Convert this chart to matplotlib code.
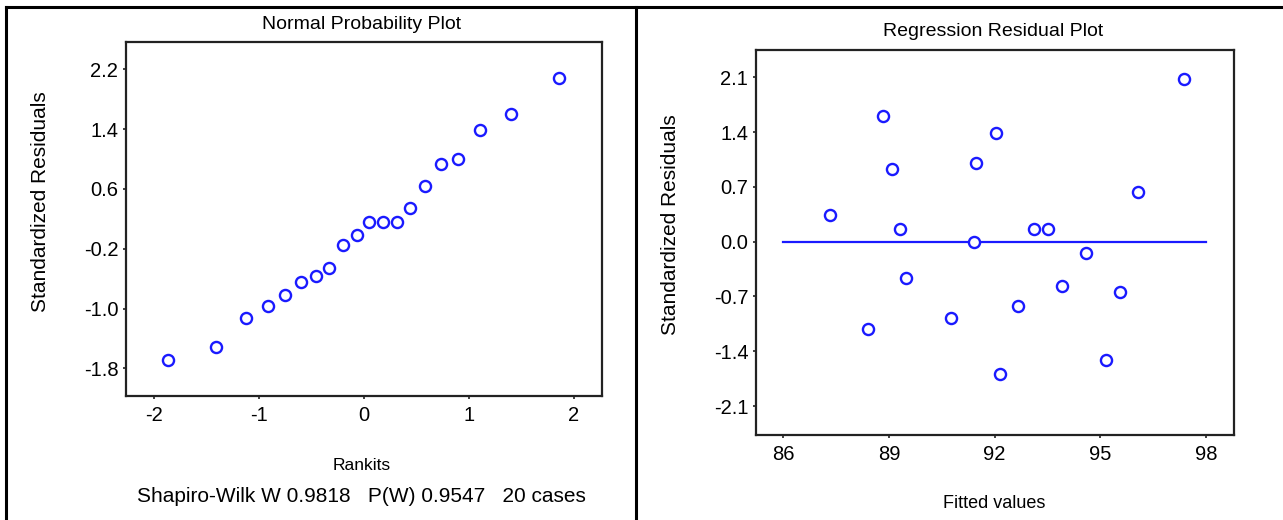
"""
Normal probability plot + residual-vs-fitted plot for a 20-case regression.
"""

import matplotlib
matplotlib.use("Agg")
import matplotlib.pyplot as plt
from matplotlib.lines import Line2D

plt.rcParams["font.family"] = ["Liberation Sans", "DejaVu Sans"]
plt.rcParams["axes.unicode_minus"] = False  # plain hyphen like the original

# ---- data ----
fitted = [87.31, 88.39, 88.84, 89.07, 89.30, 89.47, 90.77, 91.41, 91.46, 92.03,
          92.15, 92.66, 93.11, 93.52, 93.92, 94.60, 95.17, 95.57, 96.08, 97.38]
residuals = [0.34, -1.12, 1.60, 0.93, 0.16, -0.46, -0.97, -0.01, 1.00, 1.39,
             -1.69, -0.82, 0.16, 0.16, -0.56, -0.15, -1.51, -0.64, 0.64, 2.08]
rankits = [-1.87, -1.41, -1.13, -0.92, -0.75, -0.60, -0.46, -0.33, -0.20, -0.07,
           0.05, 0.18, 0.31, 0.44, 0.58, 0.73, 0.90, 1.11, 1.40, 1.86]

npp_yticks = [-1.8, -1.0, -0.2, 0.6, 1.4, 2.2]
npp_xticks = [-2, -1, 0, 1, 2]
res_yticks = [-2.1, -1.4, -0.7, 0.0, 0.7, 1.4, 2.1]
res_xticks = [86, 89, 92, 95, 98]
ref_line_x = [86, 98]
ref_line_y = [0, 0]

stats_text = "Shapiro-Wilk W 0.9818   P(W) 0.9547   20 cases"

BLUE = "#1a1aff"
W, H = 1283, 520

fig = plt.figure(figsize=(W / 100, H / 100), dpi=100)
fig.patch.set_facecolor("white")


def px(x0, y0, x1, y1):
    # pixel box (from top-left) -> figure rect
    return [x0 / W, 1 - y1 / H, (x1 - x0) / W, (y1 - y0) / H]


def style(ax):
    for s in ax.spines.values():
        s.set_linewidth(1.6)
        s.set_color("#222222")
    ax.tick_params(direction="out", length=2.5, width=1.2, labelsize=14.5,
                   pad=3, colors="#222222", labelcolor="black")


# ---- left: normal probability plot ----
ax1 = fig.add_axes(px(126, 42, 602, 396))
ax1.plot(rankits, sorted(residuals), linestyle="none", marker="o", ms=8,
         mfc="none", mec=BLUE, mew=1.7)
ax1.set_xlim(-2.27, 2.27)
ax1.set_ylim(-2.17, 2.566)
ax1.set_xticks(npp_xticks)
ax1.set_yticks(npp_yticks)
ax1.set_yticklabels([f"{v:.1f}" for v in npp_yticks])
style(ax1)
ax1.tick_params(axis="x", pad=5)

fig.text(362 / W, 1 - 24 / H, "Normal Probability Plot", ha="center", va="center", fontsize=14)
fig.text(41 / W, 1 - 202 / H, "Standardized Residuals", ha="center", va="center",
         rotation=90, fontsize=15)
fig.text(362 / W, 1 - 465 / H, "Rankits", ha="center", va="center", fontsize=12.5)
fig.text(361 / W, 1 - 497 / H, stats_text, ha="center", va="center", fontsize=15)

# ---- right: residuals vs fitted ----
ax2 = fig.add_axes(px(756, 50, 1234, 435))
ax2.plot(ref_line_x, ref_line_y, color=BLUE, lw=1.6)
ax2.plot(fitted, residuals, linestyle="none", marker="o", ms=8,
         mfc="white", mec=BLUE, mew=1.7)
ax2.set_xlim(85.22, 98.8)
ax2.set_ylim(-2.469, 2.448)
ax2.set_xticks(res_xticks)
ax2.set_yticks(res_yticks)
ax2.set_yticklabels([f"{v:.1f}" for v in res_yticks])
style(ax2)
ax2.tick_params(axis="x", pad=5)

fig.text(993 / W, 1 - 31 / H, "Regression Residual Plot", ha="center", va="center", fontsize=14)
fig.text(671 / W, 1 - 225 / H, "Standardized Residuals", ha="center", va="center",
         rotation=90, fontsize=15)
fig.text(994 / W, 1 - 503 / H, "Fitted values", ha="center", va="center", fontsize=13)

# ---- outer frame lines (left edge, top edge, divider) ----
for xs, ys in [([6, 6], [6.5, H]), ([6, W], [6.5, 6.5]), ([636, 636], [6.5, H])]:
    fig.add_artist(Line2D([x / W for x in xs], [1 - y / H for y in ys],
                          color="black", lw=2.2, transform=fig.transFigure))

fig.savefig("out.png", dpi=100)
